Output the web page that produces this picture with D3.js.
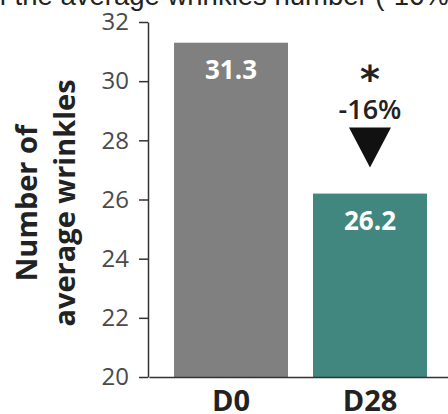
<!DOCTYPE html>
<html>
<head>
<meta charset="utf-8">
<script src="https://cdn.jsdelivr.net/npm/d3@7"></script>
<style>
  html, body { margin: 0; padding: 0; background: #fff; overflow: hidden; }
  svg { display: block; }
</style>
</head>
<body>
<svg id="chart" width="448" height="414"></svg>
<script>
// ---- data ----
const categories = ["D0", "D28"];
const values = [31.3, 26.2];
const yTicks = [20, 22, 24, 26, 28, 30, 32];
const yDomain = [20, 32];
const titleText = "of the average wrinkles number (-16%)";
const yLabelLines = ["Number of", "average wrinkles"];
const changeLabel = "-16%";
const significance = "*";

// ---- styles ----
const barColors = ["#808080", "#41877f"];
const W = 448, H = 414;

const svg = d3.select("#chart");

const y = d3.scaleLinear().domain(yDomain).range([377, 22]);
const x = d3.scaleBand().domain(categories).range([149, 452])
  .paddingInner(0.18).paddingOuter(0.18);

// title (cut off at top, as in the reference crop)
svg.append("text")
  .attr("x", -16).attr("y", 5)
  .attr("font-family", "Liberation Sans, Arial, sans-serif")
  .attr("font-size", 27.5)
  .attr("fill", "#222")
  .text(titleText);

// bars
svg.append("g").selectAll("rect")
  .data(values)
  .join("rect")
  .attr("x", (d, i) => x(categories[i]))
  .attr("width", x.bandwidth())
  .attr("y", d => y(d))
  .attr("height", d => y(yDomain[0]) - y(d))
  .attr("fill", (d, i) => barColors[i]);

// value labels
svg.append("g").selectAll("text")
  .data(values)
  .join("text")
  .attr("x", (d, i) => x(categories[i]) + x.bandwidth() / 2)
  .attr("y", d => y(d) + 36)
  .attr("text-anchor", "middle")
  .attr("font-family", "Open Sans, sans-serif")
  .attr("font-weight", "bold")
  .attr("font-size", 26)
  .attr("fill", "#fff")
  .text(d => d.toFixed(1));

// y axis
const yAxis = svg.append("g")
  .attr("transform", "translate(148,0)")
  .call(d3.axisLeft(y).tickValues(yTicks).tickSize(9).tickSizeOuter(0).tickPadding(10)
    .tickFormat(d3.format("d")));
yAxis.select(".domain").attr("stroke", "#333").attr("stroke-width", 1.5);
yAxis.selectAll(".tick line").attr("stroke", "#333").attr("stroke-width", 1.5);
yAxis.selectAll(".tick text")
  .attr("font-family", "Open Sans, sans-serif")
  .attr("font-size", 24)
  .attr("fill", "#4a4a4a");

// x axis
const xAxis = svg.append("g")
  .attr("transform", `translate(0,${y(yDomain[0])})`)
  .call(d3.axisBottom(x).tickSize(0).tickSizeOuter(0).tickPadding(13));
xAxis.select(".domain").attr("stroke", "#333").attr("stroke-width", 1.5);
xAxis.selectAll(".tick text")
  .attr("font-family", "Open Sans, sans-serif")
  .attr("font-weight", "bold")
  .attr("font-size", 29)
  .attr("fill", "#222");

// y label
const yl = svg.append("text")
  .attr("transform", "translate(0,203) rotate(-90)")
  .attr("text-anchor", "middle")
  .attr("font-family", "Open Sans, sans-serif")
  .attr("font-weight", "bold")
  .attr("font-size", 29)
  .attr("fill", "#222");
yl.selectAll("tspan").data(yLabelLines).join("tspan")
  .attr("x", 0)
  .attr("y", (d, i) => 37 + i * 38)
  .text(d => d);

// annotation over D28
const cx = x(categories[1]) + x.bandwidth() / 2;
const topY = y(values[1]);
svg.append("text")
  .attr("x", cx).attr("y", topY - 102)
  .attr("text-anchor", "middle")
  .attr("font-family", "DejaVu Sans, sans-serif")
  .attr("font-weight", "bold")
  .attr("font-size", 38)
  .attr("fill", "#222")
  .text(significance);
svg.append("text")
  .attr("x", cx).attr("y", topY - 75)
  .attr("text-anchor", "middle")
  .attr("font-family", "Open Sans, sans-serif")
  .attr("font-weight", 600)
  .attr("font-size", 27)
  .attr("fill", "#222")
  .text(changeLabel);
svg.append("path")
  .attr("d", d3.line()([[cx - 21, topY - 66], [cx + 21, topY - 66], [cx, topY - 26]]) + "Z")
  .attr("fill", "#111");
</script>
</body>
</html>
